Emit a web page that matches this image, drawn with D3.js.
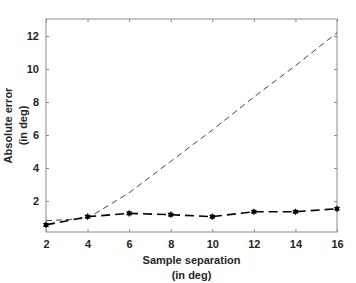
<!DOCTYPE html>
<html><head><meta charset="utf-8">
<script src="https://cdn.jsdelivr.net/npm/d3@7"></script>
<style>body{margin:0;background:#fff}svg{display:block}text{font-family:"Liberation Sans",Arial,sans-serif;font-weight:bold;fill:#262626}</style>
</head><body><svg id="c" width="356" height="283"></svg>
<script>
const separation = [2, 4, 6, 8, 10, 12, 14, 16];
const errorThin = [0.8, 0.95, 2.5, 4.4, 6.3, 8.3, 10.2, 12.2];
const errorThick = [0.55, 1.05, 1.25, 1.17, 1.05, 1.35, 1.35, 1.53];
const xTicks = [2, 4, 6, 8, 10, 12, 14, 16];
const yTicks = [2, 4, 6, 8, 10, 12];

const svg = d3.select("#c");
const L = 46, R = 337, T = 19, B = 232;
const x = d3.scaleLinear().domain([2, 16]).range([L, R]);
const y = d3.scaleLinear().domain([0.12, 13.03]).range([B, T]);
const axisColor = "#8a8a8a";

svg.append("rect").attr("x", L).attr("y", T).attr("width", R - L).attr("height", B - T)
  .attr("fill", "none").attr("stroke", axisColor).attr("stroke-width", 1);

const gx = svg.append("g").attr("transform", `translate(0,${B})`)
  .call(d3.axisBottom(x).tickValues(xTicks).tickSize(-3).tickPadding(8));
const gxt = svg.append("g").attr("transform", `translate(0,${T})`)
  .call(d3.axisTop(x).tickValues(xTicks).tickSize(-3).tickFormat(""));
const gy = svg.append("g").attr("transform", `translate(${L},0)`)
  .call(d3.axisLeft(y).tickValues(yTicks).tickSize(-3).tickPadding(7));
const gyr = svg.append("g").attr("transform", `translate(${R},0)`)
  .call(d3.axisRight(y).tickValues(yTicks).tickSize(-3).tickFormat(""));
[gx, gxt, gy, gyr].forEach(g => {
  g.select(".domain").remove();
  g.selectAll("line").attr("stroke", axisColor);
  g.selectAll("text").attr("font-size", 11).attr("font-weight", "bold")
    .attr("font-family", "Liberation Sans, Arial, sans-serif").attr("fill", "#262626");
});

const line = (vals) => d3.line().x((d, i) => x(separation[i])).y(d => y(d))(vals);
svg.append("path").attr("d", line(errorThin)).attr("fill", "none")
  .attr("stroke", "#444").attr("stroke-width", 1).attr("stroke-dasharray", "6,4");
svg.append("path").attr("d", line(errorThick)).attr("fill", "none")
  .attr("stroke", "#000").attr("stroke-width", 1.6).attr("stroke-dasharray", "9,5");

const sym = d3.symbol().type(d3.symbolAsterisk).size(26);
const mk = svg.append("g").selectAll("g").data(errorThick).join("g")
  .attr("transform", (d, i) => `translate(${x(separation[i])},${y(d)})`);
mk.append("path").attr("d", sym).attr("stroke", "#000").attr("stroke-width", 1.2).attr("fill", "none");
mk.append("rect").attr("x", -2).attr("y", -2).attr("width", 4).attr("height", 4).attr("fill", "#000");

const xl = svg.append("text").attr("text-anchor", "middle").attr("font-size", 11);
xl.append("tspan").attr("x", (L + R) / 2).attr("y", 264).text("Sample separation");
xl.append("tspan").attr("x", (L + R) / 2).attr("y", 279).text("(in deg)");
const yl = svg.append("text").attr("text-anchor", "middle").attr("font-size", 11)
  .attr("transform", `translate(0,${(T + B) / 2}) rotate(-90)`);
yl.append("tspan").attr("x", 0).attr("y", 12).text("Absolute error");
yl.append("tspan").attr("x", 0).attr("y", 27).text("(in deg)");
</script></body></html>
